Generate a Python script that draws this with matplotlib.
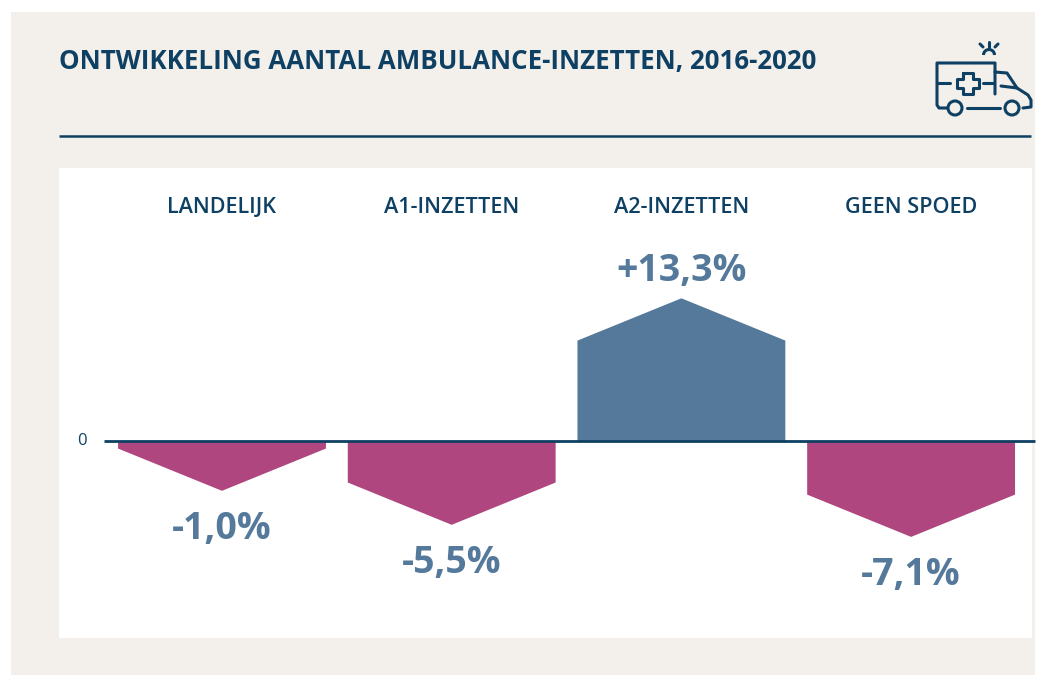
import matplotlib as mpl
mpl.use('Agg')
import matplotlib.pyplot as plt
from matplotlib.patches import Rectangle, Circle, Arc

categories = ["LANDELIJK", "A1-INZETTEN", "A2-INZETTEN", "GEEN SPOED"]
values = [-1.0, -5.5, 13.3, -7.1]
value_labels = ["-1,0%", "-5,5%", "+13,3%", "-7,1%"]
title = "ONTWIKKELING AANTAL AMBULANCE-INZETTEN, 2016-2020"

navy = "#0e4064"
blue = "#55799b"
magenta = "#b0467f"
beige = "#f3efea"
font = "Open Sans"

W, H = 1064, 675
fig = plt.figure(figsize=(W / 100, H / 100), dpi=100, facecolor="white")

# background layer in pixel coordinates (y going down)
bg = fig.add_axes([0, 0, 1, 1])
bg.set_xlim(0, W)
bg.set_ylim(H, 0)
bg.axis("off")
bg.add_patch(Rectangle((11, 12), 1024, 663, fc=beige, ec="none"))
bg.add_patch(Rectangle((59, 168), 973, 470, fc="white", ec="none"))
bg.plot([59, 1031], [136, 136], color=navy, lw=1.8, solid_capstyle="butt")
bg.text(59, 61, title, color=navy, fontsize=18.6, fontweight="bold", family=font,
        va="center", ha="left")

# ambulance icon
lw = 2.2
def icon_line(xs, ys):
    bg.plot(xs, ys, color=navy, lw=lw, solid_capstyle="round", solid_joinstyle="round")
icon_line([947, 939, 937, 937, 995, 995], [108, 108, 105, 63, 63, 94])
icon_line([995, 1007, 1017, 1028, 1031, 1031, 1023], [72, 73, 88, 95, 100, 107, 108])
icon_line([1001, 1017], [86, 88])
icon_line([967, 1000], [108, 108])
icon_line([937, 950], [83, 83])
icon_line([983, 993], [83, 83])
icon_line([963, 973, 973, 979, 979, 973, 973, 963, 963, 957, 957, 963, 963],
          [73, 73, 79, 79, 88, 88, 94, 94, 88, 88, 79, 79, 73])
bg.add_patch(Circle((955, 108), 7, fc="none", ec=navy, lw=lw))
bg.add_patch(Circle((1012, 108), 7, fc="none", ec=navy, lw=lw))
bg.add_patch(Arc((989, 55), 11, 11, theta1=180, theta2=360, ec=navy, lw=lw))
icon_line([989, 989], [42, 47])
icon_line([980, 983], [44, 47])
icon_line([998, 995], [44, 47])

# chart axes lying on the white panel, 1 unit = 7.55 px, zero line at y=441
px_unit = 7.55
spacing = 229.7
ax = fig.add_axes([59 / W, 1 - 638 / H, 973 / W, 470 / H])
ax.set_xlim((59 - 222) / spacing, (1032 - 222) / spacing)
ax.set_ylim((441 - 638) / px_unit, (441 - 168) / px_unit)
ax.patch.set_alpha(0)
ax.axis("off")

half = 0.4525
tip = 5.6  # height of the arrow point on top of each bar
for i, v in enumerate(values):
    sign = 1 if v > 0 else -1
    xs = [i - half, i - half, i, i + half, i + half]
    ys = [0, v, v + sign * tip, v, 0]
    ax.fill(xs, ys, color=blue if v > 0 else magenta, lw=0)
    gap = 3.6 if v > 0 else 5.0
    ax.text(i, v + sign * (tip + gap), value_labels[i], color=blue, fontsize=27,
            fontweight="bold", family=font, ha="center", va="center")
    ax.text(i, 30.9, categories[i], color=navy, fontsize=15.6, fontweight="semibold",
            family=font, ha="center", va="center")

ax.plot([(104 - 222) / spacing, (1035 - 222) / spacing], [0, 0], color=navy, lw=2,
        solid_capstyle="butt", clip_on=False)
ax.text((82 - 222) / spacing, 0, "0", color=navy, fontsize=12, family=font,
        ha="center", va="center")

plt.savefig("out.png", dpi=100)
plt.close()
